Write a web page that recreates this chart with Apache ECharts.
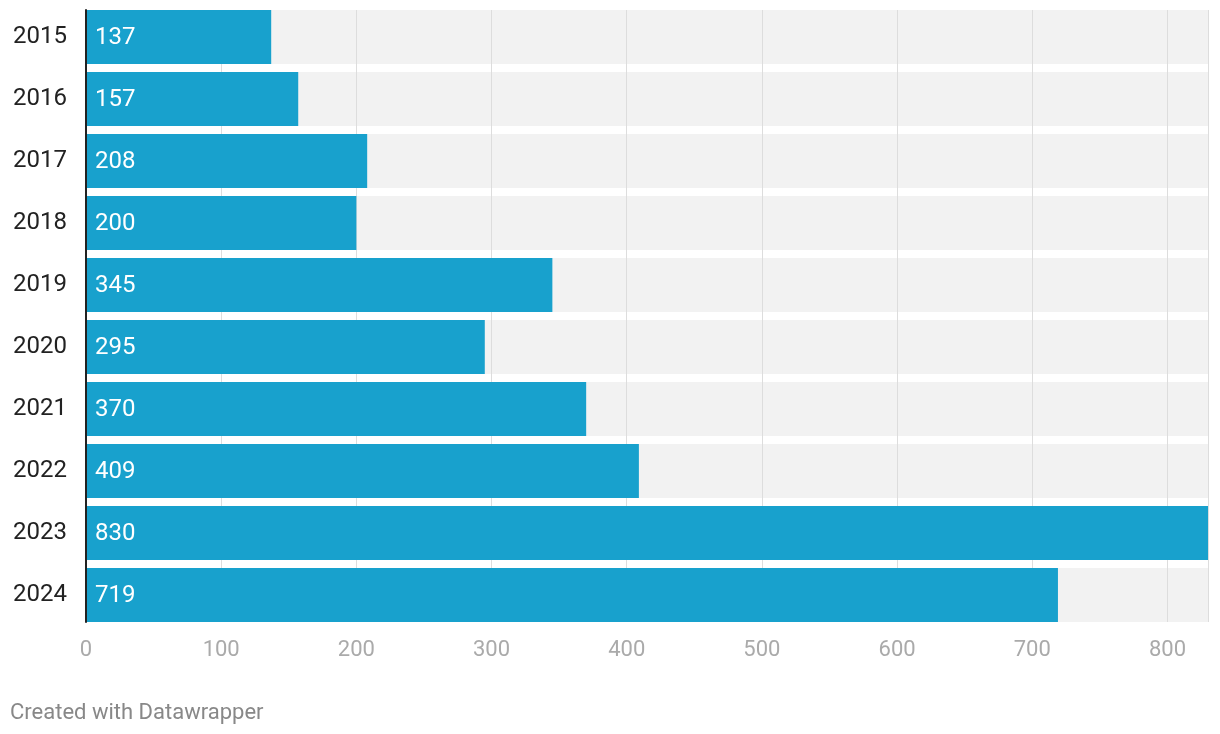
<!DOCTYPE html>
<html>
<head>
<meta charset="utf-8">
<script src="https://cdn.jsdelivr.net/npm/echarts@6/dist/echarts.min.js"></script>
<style>
  html, body { margin: 0; padding: 0; background: #ffffff; }
  #chart { width: 1220px; height: 734px; }
</style>
</head>
<body>
<div id="chart"></div>
<script>
const years = ['2015', '2016', '2017', '2018', '2019', '2020', '2021', '2022', '2023', '2024'];
const values = [137, 157, 208, 200, 345, 295, 370, 409, 830, 719];
const xMin = 0;
const xMax = 830;
const xInterval = 100;
const footerText = 'Created with Datawrapper';

const chart = echarts.init(document.getElementById('chart'), null, { renderer: 'canvas' });
const font = 'Roboto, "Noto Sans", "DejaVu Sans", sans-serif';

chart.setOption({
  animation: false,
  backgroundColor: '#ffffff',
  grid: [
    { left: 86, right: 12, top: 6, bottom: 108 },
    { left: 86, right: 12, top: 10, bottom: 112 }
  ],
  xAxis: [
    {
      gridIndex: 0, type: 'value', min: xMin, max: xMax, interval: xInterval,
      axisLine: { show: false }, axisTick: { show: false },
      splitLine: { show: false },
      axisLabel: { color: '#aaaaaa', fontSize: 22, fontFamily: font, margin: 13, showMaxLabel: false }
    },
    {
      gridIndex: 1, type: 'value', min: xMin, max: xMax, interval: xInterval, z: 2,
      axisLine: { show: false }, axisTick: { show: false }, axisLabel: { show: false },
      splitLine: { show: true, lineStyle: { color: '#dddddd', width: 1 } }
    }
  ],
  yAxis: [
    {
      gridIndex: 0, type: 'category', data: years, inverse: true,
      axisLine: { show: false }, axisTick: { show: false }, splitLine: { show: false },
      axisLabel: { color: '#222222', fontSize: 24, fontFamily: font, margin: 19, padding: [4, 0, 0, 0] }
    },
    {
      gridIndex: 1, type: 'value', min: 0, max: 1, z: 4,
      axisLine: { show: true, onZero: false, lineStyle: { color: '#222222', width: 2 } },
      axisTick: { show: false }, axisLabel: { show: false }, splitLine: { show: false }
    }
  ],
  series: [
    {
      type: 'bar', xAxisIndex: 0, yAxisIndex: 0, data: values, barWidth: 54, z: 1,
      itemStyle: { color: 'rgba(0,0,0,0)' },
      showBackground: true, backgroundStyle: { color: '#f2f2f2' },
      silent: true
    },
    {
      type: 'bar', xAxisIndex: 0, yAxisIndex: 0, data: values, barWidth: 54, barGap: '-100%', z: 3,
      itemStyle: { color: '#18a1cd' },
      label: {
        show: true, position: 'insideLeft', distance: 9, offset: [0, 1],
        color: '#ffffff', fontSize: 24, fontFamily: font
      }
    }
  ],
  graphic: [
    {
      type: 'text', left: 10, top: 702,
      style: { text: footerText, fill: '#888888', fontSize: 22, fontFamily: font }
    }
  ]
});
</script>
</body>
</html>
